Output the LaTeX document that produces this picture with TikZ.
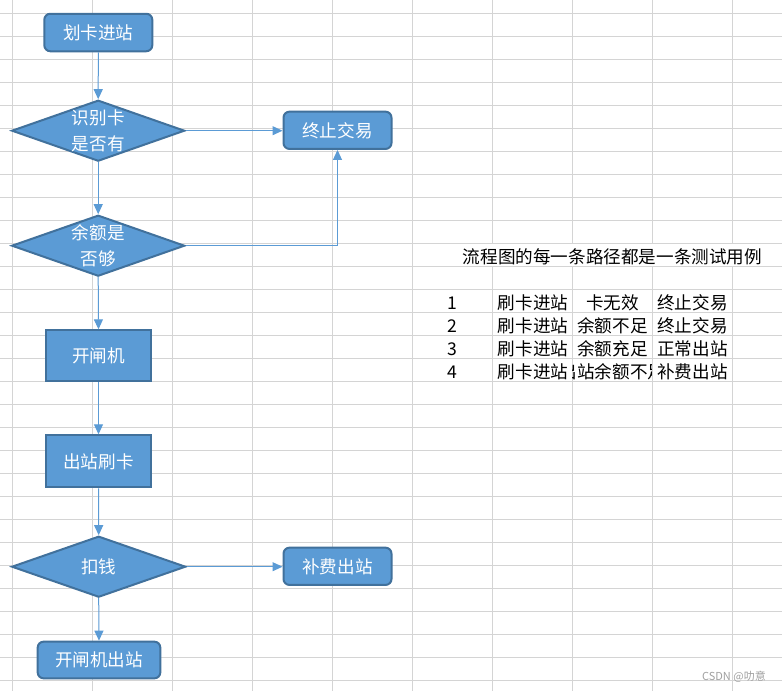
\documentclass[tikz,border=0pt]{standalone}
\usepackage{fontspec}
\setmainfont{Noto Sans CJK SC}
\usetikzlibrary{arrows.meta, shapes.geometric}
\definecolor{cellblue}{HTML}{5B9BD5}
\definecolor{celledge}{HTML}{41719C}
\definecolor{gridgray}{HTML}{D4D4D4}
\definecolor{markgray}{HTML}{A0A0A0}
\def\cjksize{\fontsize{17.6}{26}\selectfont}

\begin{document}
\begin{tikzpicture}[x=1pt, y=-1pt,
  box/.style={draw=celledge, fill=cellblue, line width=2pt, text=white, font=\cjksize, inner sep=0pt},
  roundbox/.style={box, rounded corners=6pt},
  choice/.style={box, diamond, aspect=2.8, inner sep=-10pt, align=center},
  flow/.style={draw=cellblue, line width=1pt, -{Triangle[length=10pt, width=9pt]}},
  cell/.style={anchor=base, inner sep=0pt, font=\cjksize}]
\useasboundingbox (0,0) rectangle (782,691);
\fill[white] (0,0) rectangle (782,691);
\foreach \gx in {12,92,...,732} \draw[gridgray, line width=1pt] (\gx,0) -- (\gx,691);
\foreach \k in {0,...,29} \draw[gridgray, line width=1pt] (0,{13.3+23.02*\k}) -- (782,{13.3+23.02*\k});
\fill[white] (412.5,243.8) rectangle (782,265.8);

\node[roundbox, minimum width=108pt, minimum height=37.5pt] (start) at (98.3,32.5) {划卡进站};
\node[choice, minimum width=173pt, minimum height=61pt] (card) at (98.2,130.7) {识别卡\\是否有};
\node[roundbox, minimum width=108pt, minimum height=37.3pt] (stop) at (337.5,130.3) {终止交易};
\node[choice, minimum width=173pt, minimum height=61pt] (money) at (98.2,245.7) {余额是\\否够};
\node[box, minimum width=105.6pt, minimum height=51pt] (open) at (98.5,355.8) {开闸机};
\node[box, minimum width=105.6pt, minimum height=52pt] (swipe) at (98.5,461.3) {出站刷卡};
\node[choice, minimum width=174pt, minimum height=61pt] (charge) at (98.7,566.7) {扣钱};
\node[roundbox, minimum width=108pt, minimum height=37.3pt] (topup) at (337.5,566.3) {补费出站};
\node[roundbox, minimum width=122.7pt, minimum height=36.7pt] (leave) at (99,660) {开闸机出站};

\draw[flow] (start.south) -- (card.north);
\draw[flow] (card.east) -- (card.east -| stop.west);
\draw[flow] (card.south) -- (money.north);
\draw[flow] (money.east) -| (stop.south);
\draw[flow] (money.south) -- (open.north);
\draw[flow] (open.south) -- (swipe.north);
\draw[flow] (swipe.south) -- (charge.north);
\draw[flow] (charge.east) -- (charge.east -| topup.west);
\draw[flow] (charge.south) -- (leave.north);

\node[cell] (title) at (612.5,263) {流程图的每一条路径都是一条测试用例};
\foreach \cause/\result [count=\i] in {卡无效/终止交易, 余额不足/终止交易, 余额充足/正常出站, 出站余额不足/补费出站} {
  \pgfmathsetmacro{\rowy}{13.3+23.02*(12+\i)}
  \node[cell] (num\i) at (452,\rowy-3.5) {\i};
  \node[cell] (enter\i) at (533,\rowy-3.5) {刷卡进站};
  \begin{scope}
    \clip (572.5,\rowy-22.5) rectangle (651.5,\rowy-0.5);
    \node[cell] (cause\i) at (612.5,\rowy-3.5) {\cause};
  \end{scope}
  \node[cell] (result\i) at (692.5,\rowy-3.5) {\result};
}
\node[anchor=base east, inner sep=0pt, font=\fontsize{11}{13}\selectfont, text=markgray] (mark) at (766,680) {CSDN @叻意};
\end{tikzpicture}
\end{document}
